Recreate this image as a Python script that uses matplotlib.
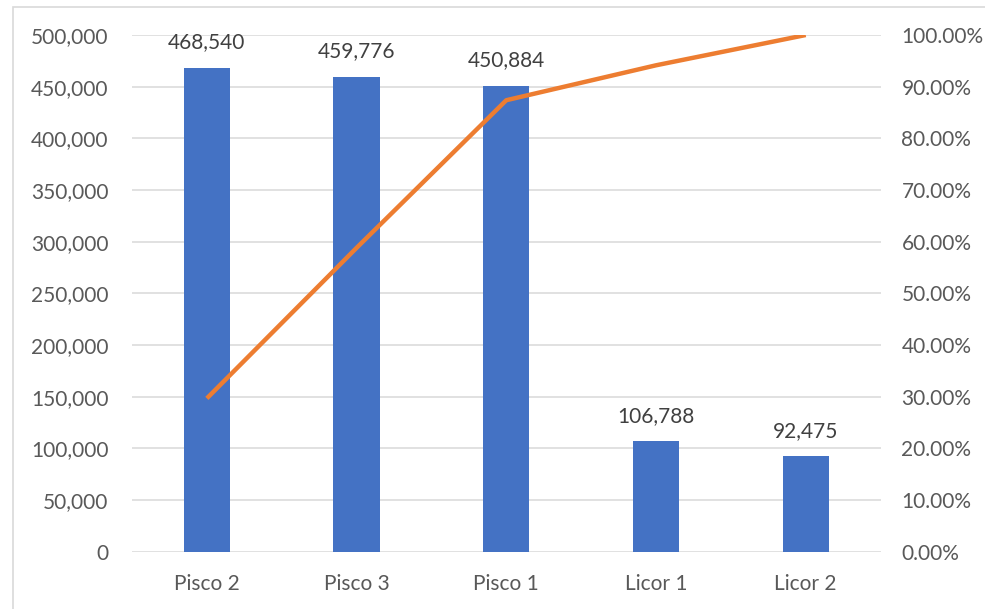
import matplotlib.pyplot as plt
import matplotlib.patches as patches
from matplotlib.ticker import FuncFormatter, MultipleLocator

plt.rcParams["font.family"] = ["Lato", "DejaVu Sans"]

# data
productos = ["Pisco 2", "Pisco 3", "Pisco 1", "Licor 1", "Licor 2"]
ventas = [468540, 459776, 450884, 106788, 92475]
acumulado = [0.2968, 0.5881, 0.8738, 0.9414, 1.0]

fig = plt.figure(figsize=(9.85, 6.09), dpi=100)
ax = fig.add_axes([0.134, 0.094, 0.760, 0.8485])
ax2 = ax.twinx()

# light frame around the chart (cropped on the right/bottom in the original)
frame = patches.Rectangle((13 / 985, -0.05), 1.2, 1 - 7 / 609 + 0.05,
                          transform=fig.transFigure, fill=False,
                          edgecolor="#D9D9D9", linewidth=1.2, zorder=0)
fig.patches.append(frame)

x = range(len(productos))
bars = ax.bar(x, ventas, width=0.31, color="#4472C4", zorder=3)
for xi, v in zip(x, ventas):
    ax.annotate(f"{v:,}", (xi, v), xytext=(0, 11), textcoords="offset points",
                ha="center", va="bottom", fontsize=15, color="#404040")

ax2.plot(list(x), acumulado, color="#ED7D31", linewidth=3.2,
         solid_capstyle="butt", zorder=4)

ax.set_xlim(-0.5, len(productos) - 0.5)
ax.set_ylim(0, 500000)
ax2.set_ylim(0, 1)
ax.yaxis.set_major_locator(MultipleLocator(50000))
ax2.yaxis.set_major_locator(MultipleLocator(0.1))
ax.yaxis.set_major_formatter(FuncFormatter(lambda v, p: f"{int(v):,}"))
ax2.yaxis.set_major_formatter(FuncFormatter(lambda v, p: f"{v * 100:.2f}%"))

ax.set_xticks(list(x))
ax.set_xticklabels(productos)

ax.grid(axis="y", color="#D9D9D9", linewidth=1.1, zorder=0)
ax.set_axisbelow(True)
for a in (ax, ax2):
    for s in a.spines.values():
        s.set_visible(False)
    a.tick_params(length=0, labelsize=15, labelcolor="#595959")
ax.tick_params(axis="y", pad=17)
ax2.tick_params(axis="y", pad=15)
ax.tick_params(axis="x", pad=16)

plt.savefig("out.png", dpi=100)
